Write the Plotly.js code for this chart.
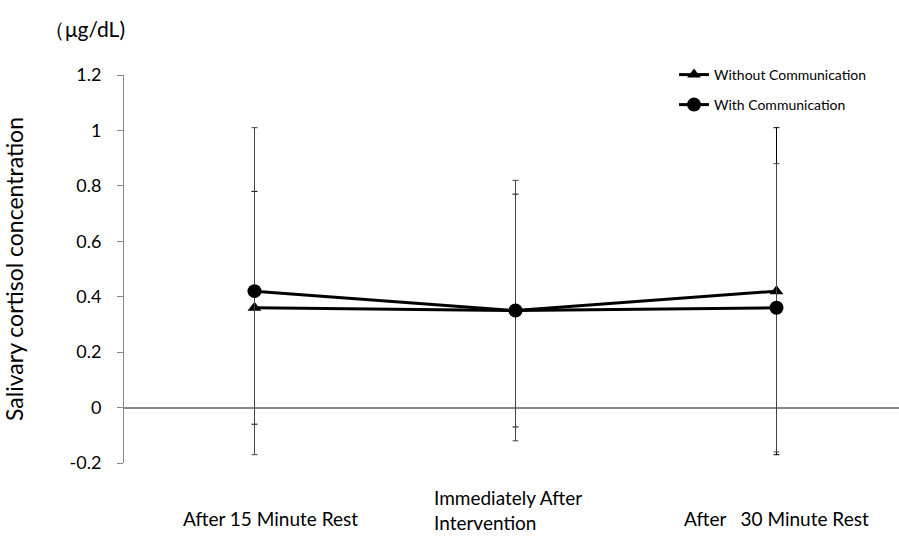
<!DOCTYPE html>
<html>
<head>
<meta charset="utf-8">
<script src="https://cdn.plot.ly/plotly-3.0.1.min.js"></script>
<style>html,body{margin:0;padding:0;background:#fff}#chart{width:899px;height:540px}</style>
</head>
<body>
<div id="chart"></div>
<script>
// ---- data ----
const categories = [0, 1, 2];
const tickLabels = ["After 15 Minute Rest", "Immediately After<br>Intervention", "After   30 Minute Rest"];
const withoutComm = [0.36, 0.35, 0.42];
const withoutCommErr = [0.42, 0.42, 0.59];
const withComm = [0.42, 0.35, 0.36];
const withCommErr = [0.59, 0.47, 0.52];
const seriesNames = ["Without Communication", "With Communication"];
const yTicks = [-0.2, 0, 0.2, 0.4, 0.6, 0.8, 1, 1.2];
const yTickText = ["-0.2", "0", "0.2", "0.4", "0.6", "0.8", "1", "1.2"];

const FONT = "Lato, 'Open Sans', sans-serif";

const traces = [
  {
    x: categories, y: withoutComm, name: seriesNames[0], type: 'scatter', mode: 'lines+markers',
    legend: 'legend',
    line: {color: '#000', width: 3},
    marker: {symbol: 'triangle-up', size: 12, color: '#000'},
    error_y: {type: 'data', array: withoutCommErr, visible: true, color: '#000', thickness: 1, width: 3}
  },
  {
    x: categories, y: withComm, name: seriesNames[1], type: 'scatter', mode: 'lines+markers',
    legend: 'legend2',
    line: {color: '#000', width: 3},
    marker: {symbol: 'circle', size: 14, color: '#000'},
    error_y: {type: 'data', array: withCommErr, visible: true, color: '#444', thickness: 1, width: 3}
  }
];

// label placement styles (pixel shifts relative to category position)
const labelStyle = [
  {xanchor: 'left', xshift: -74, yshift: -55, align: 'center'},
  {xanchor: 'left', xshift: -84, yshift: -47, align: 'left'},
  {xanchor: 'left', xshift: -95, yshift: -55, align: 'left'}
];
const annotations = tickLabels.map((t, i) => Object.assign({
  text: t, x: categories[i], xref: 'x', y: -0.2, yref: 'y', yanchor: 'middle',
  showarrow: false, font: {family: FONT, size: 19, color: '#000'}
}, labelStyle[i]));

const legendBase = {xanchor: 'left', yanchor: 'middle', x: (674-124)/775,
  font: {family: FONT, size: 14, color: '#000'}, bgcolor: 'rgba(0,0,0,0)', itemwidth: 30};

const layout = {
  width: 899, height: 540,
  margin: {l: 124, r: 0, t: 75, b: 77},
  paper_bgcolor: '#fff', plot_bgcolor: '#fff',
  font: {family: FONT, size: 16, color: '#000'},
  title: {text: '（μg/dL)', font: {family: FONT, size: 21, color: '#000'},
          xref: 'container', yref: 'container', x: 44/899, xanchor: 'left', y: 1 - 30/540, yanchor: 'middle'},
  showlegend: true,
  legend: Object.assign({}, legendBase, {y: 1 + 0/388}),
  legend2: Object.assign({}, legendBase, {y: 1 - 30/388}),
  xaxis: {
    type: 'linear', range: [-0.5, -0.5 + 775/261],
    showgrid: false, zeroline: false, showline: false, showticklabels: false, ticks: ''
  },
  yaxis: {
    range: [-0.2, 1.2], tickvals: yTicks, ticktext: yTickText,
    showgrid: false, zeroline: true, zerolinecolor: '#878787', zerolinewidth: 2,
    showline: true, linecolor: '#878787', linewidth: 1,
    ticks: 'outside', ticklen: 6, tickcolor: '#878787', tickwidth: 1,
    ticklabelstandoff: 12,
    tickfont: {family: FONT, size: 18, color: '#000'},
    title: {text: 'Salivary cortisol concentration', font: {family: FONT, size: 23, color: '#000'}, standoff: 40}
  },
  annotations: annotations
};

Plotly.newPlot('chart', traces, layout, {displayModeBar: false, staticPlot: true});
</script>
</body>
</html>
